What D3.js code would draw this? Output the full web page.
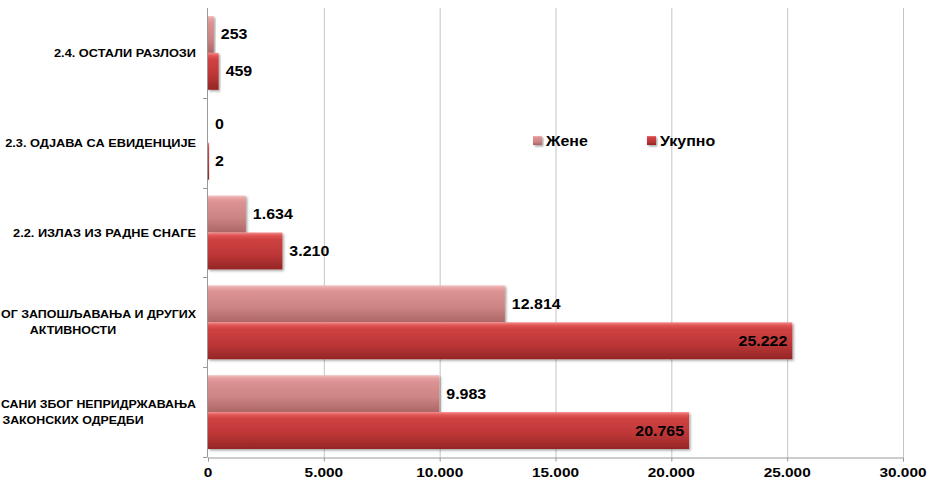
<!DOCTYPE html>
<html><head><meta charset="utf-8">
<script src="https://cdn.jsdelivr.net/npm/d3@7"></script>
<style>body{margin:0;background:#fff}svg{display:block}text{font-family:"Liberation Sans",Arial,sans-serif;font-weight:bold;fill:#000}</style>
</head><body>
<svg id="c" width="931" height="483"></svg>
<script>
// visible part of the category labels (the longer ones are cut by the left edge in the original)
const categories = ["2.4. ОСТАЛИ РАЗЛОЗИ","2.3. ОДЈАВА СА ЕВИДЕНЦИЈЕ","2.2. ИЗЛАЗ ИЗ РАДНЕ СНАГЕ","ОГ ЗАПОШЉАВАЊА И ДРУГИХ|АКТИВНОСТИ","САНИ ЗБОГ НЕПРИДРЖАВАЊА|ЗАКОНСКИХ ОДРЕДБИ"];
const seriesNames = ["Жене","Укупно"];
const zene = [253, 0, 1634, 12814, 9983];
const ukupno = [459, 2, 3210, 25222, 20765];
const xTicks = [0,5000,10000,15000,20000,25000,30000];
const fmt = v => d3.format(",")(v).replace(/,/g,".");

const svg = d3.select("#c");
const SX = 1.14;
const x = d3.scaleLinear().domain([0,30000]).range([208,903]);
const y = d3.scaleBand().domain(categories).range([8,457]).paddingInner(0.178).paddingOuter(0.089);
const ys = d3.scaleBand().domain(seriesNames).range([0,y.bandwidth()]);

const defs = svg.append("defs");
function grad(id, stops){
  const g = defs.append("linearGradient").attr("id",id).attr("x1",0).attr("y1",0).attr("x2",0).attr("y2",1);
  stops.forEach(s=>g.append("stop").attr("offset",s[0]).attr("stop-color",s[1]));
}
grad("gZ",[[0,"#f3c0c0"],[0.08,"#e6a0a0"],[0.18,"#dc9292"],[0.6,"#cc8484"],[1,"#ad6666"]]);
grad("gU",[[0,"#f58a8a"],[0.08,"#e05555"],[0.18,"#cf4242"],[0.6,"#bd3636"],[1,"#942626"]]);
const f = defs.append("filter").attr("id","sh").attr("x","-10%").attr("y","-20%").attr("width","130%").attr("height","150%");
f.append("feDropShadow").attr("dx",1.5).attr("dy",1.5).attr("stdDeviation",1).attr("flood-color","#000").attr("flood-opacity",0.35);

// gridlines
svg.append("g").selectAll("line").data(xTicks.slice(1)).join("line")
  .attr("x1",d=>x(d)+0.5).attr("x2",d=>x(d)+0.5).attr("y1",8).attr("y2",457)
  .attr("stroke","#c4c4c4").attr("stroke-width",1);

// bottom axis
const xa = svg.append("g").attr("transform","translate(0,457.5)")
  .call(d3.axisBottom(x).tickValues(xTicks).tickSize(4).tickFormat(""));
xa.select(".domain").attr("stroke","#9a9a9a");
xa.selectAll(".tick line").attr("stroke","#9a9a9a");
svg.append("g").selectAll("text").data(xTicks).join("text")
  .attr("transform",d=>`translate(${x(d)},477) scale(${SX},1)`)
  .attr("text-anchor","middle").attr("font-size",13.5).text(fmt);

// left axis
const bounds = categories.map(c=>y(c)-y.step()*0.089).concat([457]);
svg.append("line").attr("x1",207.5).attr("x2",207.5).attr("y1",8).attr("y2",457).attr("stroke","#9a9a9a");
svg.append("g").selectAll("line").data(bounds.slice(1)).join("line")
  .attr("x1",203).attr("x2",207.5).attr("y1",d=>Math.round(d)+0.5).attr("y2",d=>Math.round(d)+0.5).attr("stroke","#9a9a9a");

// bars
const rows = categories.map((c,i)=>({c, vals:[{s:"Жене",v:zene[i]},{s:"Укупно",v:ukupno[i]}]}));
const g = svg.append("g");
rows.forEach(r=>{
  r.vals.forEach(d=>{
    const yy = y(r.c)+ys(d.s), h = ys.bandwidth();
    if(d.v>0){
      g.append("rect").attr("x",x(0)).attr("y",yy).attr("width",Math.max(1,x(d.v)-x(0))).attr("height",h)
        .attr("fill",d.s==="Жене"?"url(#gZ)":"url(#gU)").attr("filter","url(#sh)");
    }
    const inside = d.v>20000;
    g.append("text")
      .attr("transform",`translate(${inside? x(d.v)-5 : x(d.v)+7},${yy+h/2+5}) scale(${SX},1)`)
      .attr("text-anchor",inside?"end":"start").attr("font-size",14).text(fmt(d.v));
  });
});

// category labels
const FS = 11.2;
function fitText(sel, anchorX, yPos, anchor, maxW){
  const t = sel.append("text").attr("text-anchor",anchor).attr("font-size",FS);
  return t;
}
rows.forEach((r,i)=>{
  const lines = r.c.split("|");
  const cy = y(r.c)+y.bandwidth()/2;
  const t = svg.append("g");
  if(lines.length===1){
    t.append("text").attr("transform",`translate(196,${cy+4}) scale(${SX},1)`).attr("text-anchor","end").attr("font-size",FS).text(lines[0]);
  } else {
    const t1 = t.append("text").attr("text-anchor","end").attr("font-size",FS).text(lines[0]);
    const w1 = t1.node().getComputedTextLength();
    const s1 = Math.min(SX, 195/w1);
    t1.attr("transform",`translate(196,${cy-4}) scale(${s1},1)`);
    const t2 = t.append("text").attr("text-anchor","middle").attr("font-size",FS).text(lines[1]);
    const w2 = t2.node().getComputedTextLength()*s1;
    const cx = Math.max(73, w2/2 + 2);
    t2.attr("transform",`translate(${cx},${cy+12}) scale(${s1},1)`);
  }
});

// legend
const leg = [{s:"Жене",x:533,f:"url(#gZ)"},{s:"Укупно",x:647,f:"url(#gU)"}];
leg.forEach(l=>{
  svg.append("rect").attr("x",l.x).attr("y",136).attr("width",9).attr("height",9).attr("fill",l.f).attr("filter","url(#sh)");
  svg.append("text").attr("transform",`translate(${l.x+13},145.5) scale(${SX},1)`).attr("font-size",14).text(l.s);
});
</script>
</body></html>
